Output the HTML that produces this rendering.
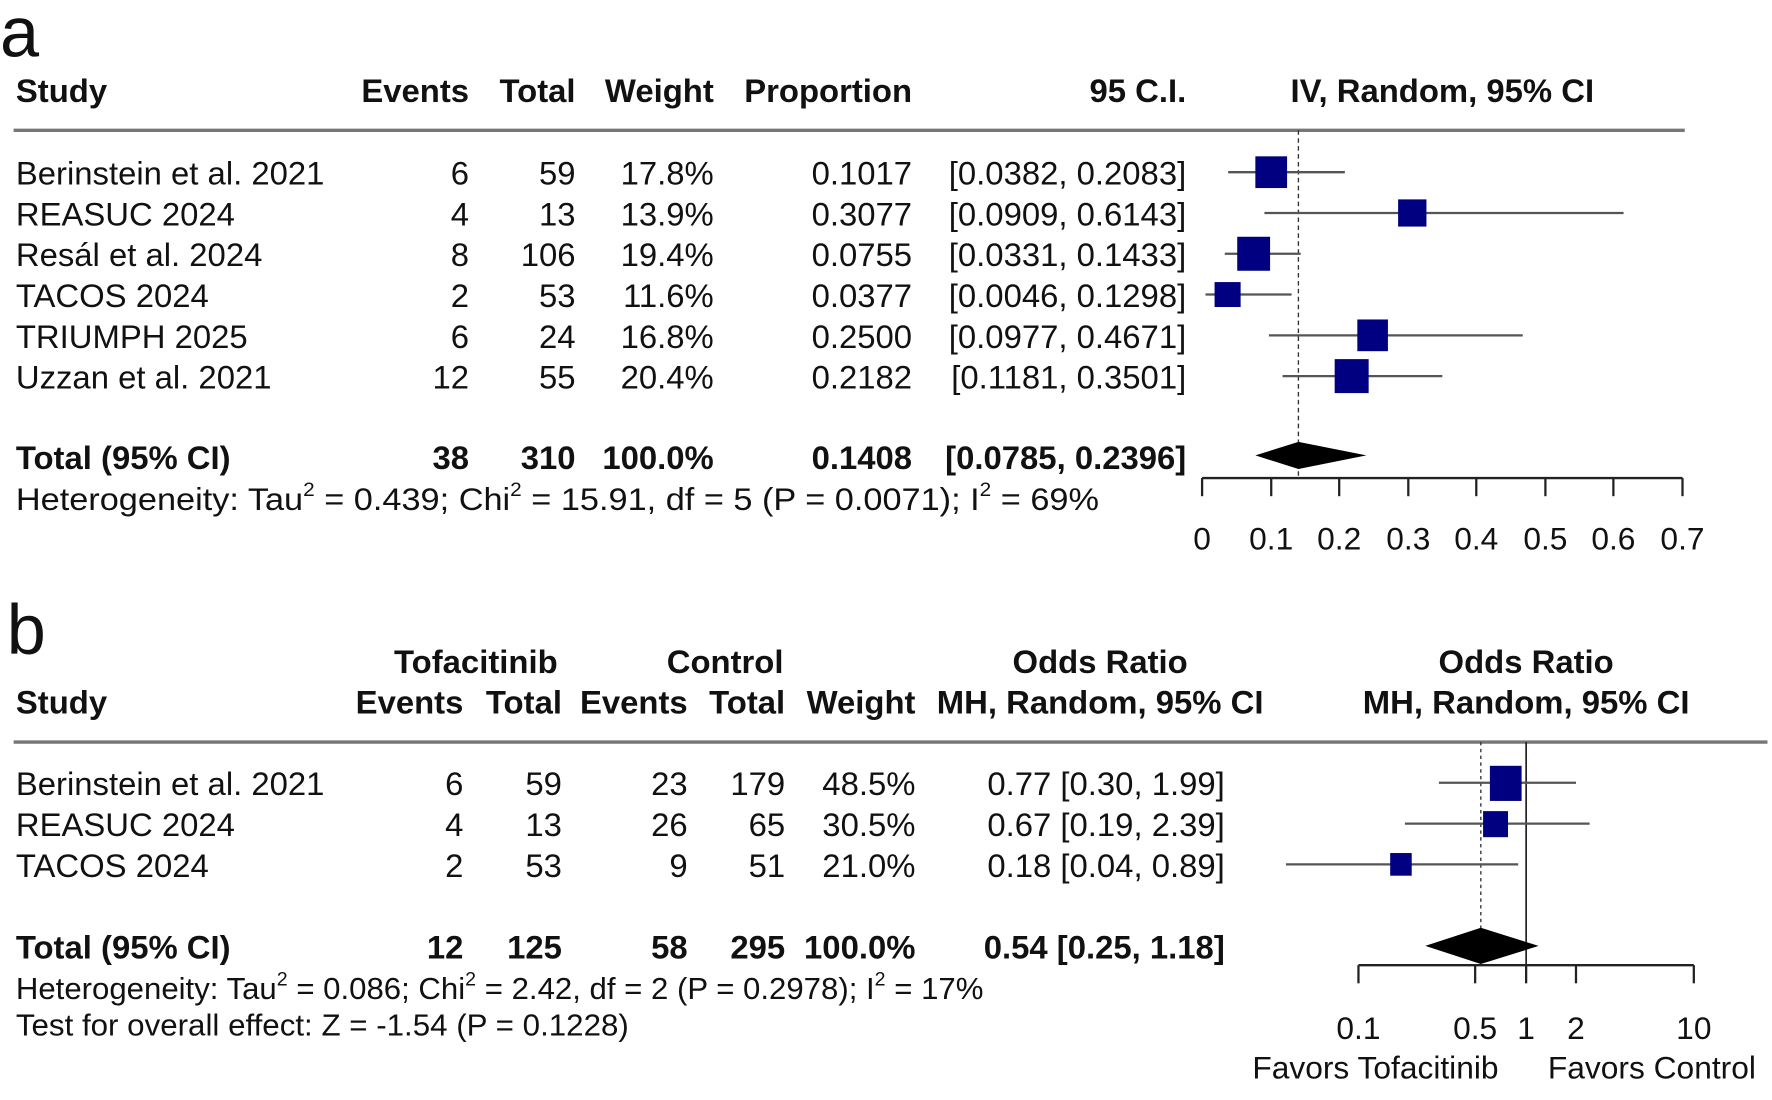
<!DOCTYPE html>
<html><head><meta charset="utf-8"><style>html,body{margin:0;padding:0;background:#fff}svg{display:block}text{font-family:"Liberation Sans",Arial,sans-serif;fill:#111}</style></head>
<body>
<svg width="1772" height="1100" viewBox="0 0 1564 971" preserveAspectRatio="none" xmlns="http://www.w3.org/2000/svg">
<rect width="1564" height="971" fill="#fff"/>
<text x="0" y="50" font-size="62">a</text>
<g font-size="29" font-weight="bold">
<text x="14" y="90">Study</text>
<text x="414" y="90" text-anchor="end">Events</text>
<text x="508" y="90" text-anchor="end">Total</text>
<text x="630" y="90" text-anchor="end">Weight</text>
<text x="805" y="90" text-anchor="end">Proportion</text>
<text x="1047" y="90" text-anchor="end">95 C.I.</text>
<text x="1273" y="90" text-anchor="middle">IV, Random, 95% CI</text>
</g>
<line x1="12" y1="115" x2="1487" y2="115" stroke="#777" stroke-width="3"/>
<g font-size="29">
<text x="14" y="163">Berinstein et al. 2021</text><text x="414" y="163" text-anchor="end">6</text><text x="508" y="163" text-anchor="end">59</text><text x="630" y="163" text-anchor="end">17.8%</text><text x="805" y="163" text-anchor="end">0.1017</text><text x="1047" y="163" text-anchor="end">[0.0382, 0.2083]</text>
<text x="14" y="199">REASUC 2024</text><text x="414" y="199" text-anchor="end">4</text><text x="508" y="199" text-anchor="end">13</text><text x="630" y="199" text-anchor="end">13.9%</text><text x="805" y="199" text-anchor="end">0.3077</text><text x="1047" y="199" text-anchor="end">[0.0909, 0.6143]</text>
<text x="14" y="235">Resál et al. 2024</text><text x="414" y="235" text-anchor="end">8</text><text x="508" y="235" text-anchor="end">106</text><text x="630" y="235" text-anchor="end">19.4%</text><text x="805" y="235" text-anchor="end">0.0755</text><text x="1047" y="235" text-anchor="end">[0.0331, 0.1433]</text>
<text x="14" y="271">TACOS 2024</text><text x="414" y="271" text-anchor="end">2</text><text x="508" y="271" text-anchor="end">53</text><text x="630" y="271" text-anchor="end">11.6%</text><text x="805" y="271" text-anchor="end">0.0377</text><text x="1047" y="271" text-anchor="end">[0.0046, 0.1298]</text>
<text x="14" y="307">TRIUMPH 2025</text><text x="414" y="307" text-anchor="end">6</text><text x="508" y="307" text-anchor="end">24</text><text x="630" y="307" text-anchor="end">16.8%</text><text x="805" y="307" text-anchor="end">0.2500</text><text x="1047" y="307" text-anchor="end">[0.0977, 0.4671]</text>
<text x="14" y="343">Uzzan et al. 2021</text><text x="414" y="343" text-anchor="end">12</text><text x="508" y="343" text-anchor="end">55</text><text x="630" y="343" text-anchor="end">20.4%</text><text x="805" y="343" text-anchor="end">0.2182</text><text x="1047" y="343" text-anchor="end">[0.1181, 0.3501]</text>
</g>
<g font-size="29" font-weight="bold">
<text x="14" y="414">Total (95% CI)</text><text x="414" y="414" text-anchor="end">38</text><text x="508" y="414" text-anchor="end">310</text><text x="630" y="414" text-anchor="end">100.0%</text><text x="805" y="414" text-anchor="end">0.1408</text><text x="1047" y="414" text-anchor="end">[0.0785, 0.2396]</text>
</g>
<text x="14" y="450" font-size="28" textLength="956" lengthAdjust="spacingAndGlyphs">Heterogeneity: Tau<tspan dy="-12" font-size="17">2</tspan><tspan dy="12"> = 0.439; Chi</tspan><tspan dy="-12" font-size="17">2</tspan><tspan dy="12"> = 15.91, df = 5 (P = 0.0071); I</tspan><tspan dy="-12" font-size="17">2</tspan><tspan dy="12"> = 69%</tspan></text>
<line x1="1146" y1="115" x2="1146" y2="422" stroke="#333" stroke-width="1.2" stroke-dasharray="4,3"/>
<g stroke="#555" stroke-width="2">
<line x1="1084" y1="152" x2="1187" y2="152"/>
<line x1="1116" y1="188" x2="1433" y2="188"/>
<line x1="1081" y1="224" x2="1148" y2="224"/>
<line x1="1064" y1="260" x2="1140" y2="260"/>
<line x1="1120" y1="296" x2="1344" y2="296"/>
<line x1="1132" y1="332" x2="1273" y2="332"/>
</g>
<g fill="#000080">
<rect x="1108" y="138" width="28" height="28"/>
<rect x="1234" y="176" width="25" height="24"/>
<rect x="1092" y="209" width="29" height="30"/>
<rect x="1072" y="249" width="23" height="22"/>
<rect x="1198" y="282" width="27" height="28"/>
<rect x="1178" y="317" width="30" height="30"/>
</g>
<polygon points="1108,402 1146,390 1206,402 1146,414" fill="#000"/>
<g stroke="#222" stroke-width="2">
<line x1="1061" y1="422" x2="1485" y2="422"/>
<line x1="1061" y1="422" x2="1061" y2="438"/><line x1="1122" y1="422" x2="1122" y2="438"/><line x1="1182" y1="422" x2="1182" y2="438"/><line x1="1243" y1="422" x2="1243" y2="438"/><line x1="1303" y1="422" x2="1303" y2="438"/><line x1="1364" y1="422" x2="1364" y2="438"/><line x1="1424" y1="422" x2="1424" y2="438"/><line x1="1485" y1="422" x2="1485" y2="438"/>
</g>
<g font-size="28" text-anchor="middle">
<text x="1061" y="485">0</text><text x="1122" y="485">0.1</text><text x="1182" y="485">0.2</text><text x="1243" y="485">0.3</text><text x="1303" y="485">0.4</text><text x="1364" y="485">0.5</text><text x="1424" y="485">0.6</text><text x="1485" y="485">0.7</text>
</g>

<text x="6" y="577" font-size="62">b</text>
<g font-size="29" font-weight="bold">
<text x="420" y="594" text-anchor="middle">Tofacitinib</text>
<text x="640" y="594" text-anchor="middle">Control</text>
<text x="971" y="594" text-anchor="middle">Odds Ratio</text>
<text x="1347" y="594" text-anchor="middle">Odds Ratio</text>
<text x="14" y="630">Study</text>
<text x="409" y="630" text-anchor="end">Events</text>
<text x="496" y="630" text-anchor="end">Total</text>
<text x="607" y="630" text-anchor="end">Events</text>
<text x="693" y="630" text-anchor="end">Total</text>
<text x="808" y="630" text-anchor="end">Weight</text>
<text x="971" y="630" text-anchor="middle">MH, Random, 95% CI</text>
<text x="1347" y="630" text-anchor="middle">MH, Random, 95% CI</text>
</g>
<line x1="12" y1="655" x2="1560" y2="655" stroke="#777" stroke-width="3"/>
<g font-size="29">
<text x="14" y="702">Berinstein et al. 2021</text><text x="409" y="702" text-anchor="end">6</text><text x="496" y="702" text-anchor="end">59</text><text x="607" y="702" text-anchor="end">23</text><text x="693" y="702" text-anchor="end">179</text><text x="808" y="702" text-anchor="end">48.5%</text><text x="1081" y="702" text-anchor="end">0.77 [0.30, 1.99]</text>
<text x="14" y="738">REASUC 2024</text><text x="409" y="738" text-anchor="end">4</text><text x="496" y="738" text-anchor="end">13</text><text x="607" y="738" text-anchor="end">26</text><text x="693" y="738" text-anchor="end">65</text><text x="808" y="738" text-anchor="end">30.5%</text><text x="1081" y="738" text-anchor="end">0.67 [0.19, 2.39]</text>
<text x="14" y="774">TACOS 2024</text><text x="409" y="774" text-anchor="end">2</text><text x="496" y="774" text-anchor="end">53</text><text x="607" y="774" text-anchor="end">9</text><text x="693" y="774" text-anchor="end">51</text><text x="808" y="774" text-anchor="end">21.0%</text><text x="1081" y="774" text-anchor="end">0.18 [0.04, 0.89]</text>
</g>
<g font-size="29" font-weight="bold">
<text x="14" y="846">Total (95% CI)</text><text x="409" y="846" text-anchor="end">12</text><text x="496" y="846" text-anchor="end">125</text><text x="607" y="846" text-anchor="end">58</text><text x="693" y="846" text-anchor="end">295</text><text x="808" y="846" text-anchor="end">100.0%</text><text x="1081" y="846" text-anchor="end">0.54 [0.25, 1.18]</text>
</g>
<text x="14" y="882" font-size="27" textLength="854" lengthAdjust="spacingAndGlyphs">Heterogeneity: Tau<tspan dy="-12" font-size="17">2</tspan><tspan dy="12"> = 0.086; Chi</tspan><tspan dy="-12" font-size="17">2</tspan><tspan dy="12"> = 2.42, df = 2 (P = 0.2978); I</tspan><tspan dy="-12" font-size="17">2</tspan><tspan dy="12"> = 17%</tspan></text>
<text x="14" y="914" font-size="27" textLength="541" lengthAdjust="spacingAndGlyphs">Test for overall effect: Z = -1.54 (P = 0.1228)</text>
<line x1="1347" y1="655" x2="1347" y2="852" stroke="#222" stroke-width="1.5"/>
<line x1="1307" y1="655" x2="1307" y2="852" stroke="#333" stroke-width="1.2" stroke-dasharray="3,3"/>
<g stroke="#555" stroke-width="2">
<line x1="1270" y1="691" x2="1391" y2="691"/>
<line x1="1240" y1="727" x2="1403" y2="727"/>
<line x1="1135" y1="763" x2="1340" y2="763"/>
</g>
<g fill="#000080">
<rect x="1315" y="676" width="28" height="31"/>
<rect x="1309" y="716" width="22" height="23"/>
<rect x="1227" y="753" width="19" height="20"/>
</g>
<polygon points="1258,835 1307,819 1358,835 1307,851" fill="#000"/>
<g stroke="#222" stroke-width="2">
<line x1="1199" y1="852" x2="1495" y2="852"/>
<line x1="1199" y1="852" x2="1199" y2="868"/><line x1="1302" y1="852" x2="1302" y2="868"/><line x1="1347" y1="852" x2="1347" y2="868"/><line x1="1391" y1="852" x2="1391" y2="868"/><line x1="1495" y1="852" x2="1495" y2="868"/>
</g>
<g font-size="28" text-anchor="middle">
<text x="1199" y="917">0.1</text><text x="1302" y="917">0.5</text><text x="1347" y="917">1</text><text x="1391" y="917">2</text><text x="1495" y="917">10</text>
<text x="1214" y="952">Favors Tofacitinib</text><text x="1458" y="952">Favors Control</text>
</g>
</svg>
</body></html>
